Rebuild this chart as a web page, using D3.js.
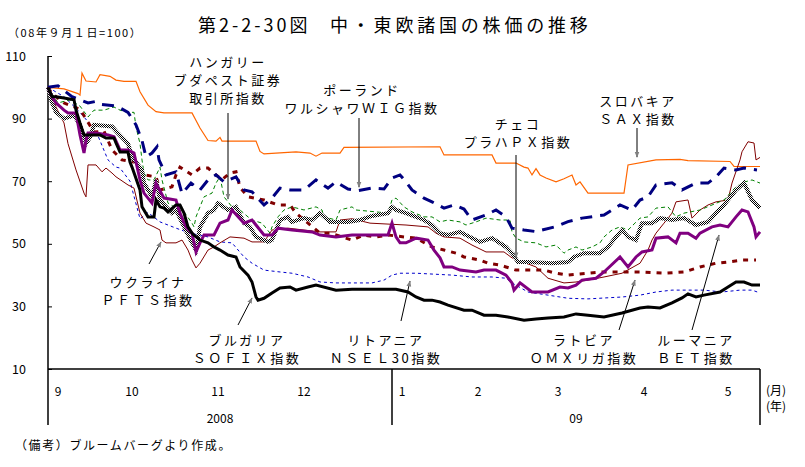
<!DOCTYPE html>
<html><head><meta charset="utf-8">
<script src="https://cdn.jsdelivr.net/npm/d3@7"></script>
<style>
body{margin:0;background:#fff;}
text{font-family:"Noto Sans CJK JP",sans-serif;fill:#000;}
</style></head>
<body><svg id="chart" width="805" height="467"></svg>
<script>
// 取引日インデックス (0 = 08年9月1日)
const monthDays = [0, 18.5, 40, 61.5, 86, 105, 125, 146.5, 167.5];
const monthLabels = ["9", "10", "11", "12", "1", "2", "3", "4", "5"];
const yearLabels = ["2008", "09"];
const yearBounds = [0, 86, 178];
const yTicks = [10, 30, 50, 70, 90, 110];

// --- 各国指数 [日, 値] ---
const slovakia = [[0,100],[4,99.5],[7.5,98],[8,97.5],[8.5,104.5],[9.5,102],[12,101.7],[13,104],[15.5,103.5],[17,102.3],[19,101.9],[22,101.9],[23,98.6],[25,94.3],[27,92.2],[29,91.8],[36,91.8],[38,87],[40,83],[42,82.8],[43,84],[43.5,82.8],[52,82.8],[53,79.5],[54,78.7],[62,79.4],[65.5,79],[67,78],[68.5,79],[73,79],[74,80.8],[98,81],[99,78.4],[111,78.4],[112,75.8],[117,75.8],[119,74.5],[120,74.2],[121,72],[122,74],[123,72],[124.5,71],[127,69.8],[129,70.8],[131,72],[132,68.8],[133,69.8],[135,66.2],[144,66.2],[145,75.2],[152,76.8],[158,77],[160,76.6],[170.5,76.3],[171.5,74.7],[178,74.7]];
const poland = [[0,100],[2.5,100.5],[4,99],[6,97],[10,95],[12,95.5],[13.5,94.5],[17,94],[18,93.4],[20,92],[22,88],[23.5,83],[24.5,77.7],[26,79],[27.25,81],[27.75,76.8],[29.5,72],[32,73],[33.5,66],[35.75,69.4],[38,67.2],[40,70.4],[42,72],[44,69.8],[47,71.4],[49,67.2],[51,66.6],[54,62.4],[56,64.6],[58,67.8],[60.5,67.2],[64,67.2],[67,70.4],[70,67.8],[72,69.8],[75,67.5],[77.5,67],[81,67.8],[84,67.5],[86,71],[88,72],[89.5,69.8],[91,67.2],[94,64.6],[96,63.4],[99,61.4],[101.5,62.4],[104,61.1],[106,57.6],[109.5,59.2],[112,60.8],[114.5,58.6],[116,55],[119,54.4],[122,53.9],[127,55.5],[130,57.1],[133.5,58.2],[139,59.2],[143,62.4],[146,60.8],[148,64],[150,65],[152,68.8],[156,69.5],[158.5,67.2],[162,69.4],[165,69.4],[167,71.4],[169,74.2],[172,73.6],[174,74.2],[177.25,73.6]];
const hungary = [[0,100],[1,98],[2.5,95],[5.5,96],[8,94],[10,90.5],[11.5,92.7],[14,92.7],[16.5,93.7],[18,92.7],[20,92],[21.5,92],[22,87.3],[23,82],[23.5,76.8],[24,72.6],[25,70.4],[26.5,70.4],[28,74.5],[28.5,70.4],[30,63],[32,61.4],[34,60.2],[36,56.6],[36.5,55.4],[37,58.6],[38,61.8],[39,65],[41,66.2],[42,69.4],[43,71.4],[44,65],[46,61.8],[48,60.8],[50,58.6],[51,57.6],[53.5,56.6],[55.5,53.4],[56,55.4],[57.5,58.6],[59,60.8],[61,61.8],[64,60.8],[67,61.8],[68.5,60.8],[69,58.6],[72,57.6],[73,60.8],[76,61.8],[77,60.8],[82,60.2],[85,59.8],[86,64],[87,64.6],[89,61.8],[91,60.2],[94,58.6],[96,58.6],[98,57],[100,57.6],[103,57],[104.5,56],[107,57],[109.5,58.2],[113,57.6],[115.5,57.6],[116,53.8],[117,51.8],[119,50.6],[122,50.3],[124.5,49],[127,49.6],[129,47],[130,48],[132,49],[133.5,48],[136,49],[138,50.3],[139,52.2],[141,54.4],[143,55.4],[145,54.4],[148,58.2],[150,58.6],[152,61.4],[155,61.8],[157,58.6],[159,59.8],[163,60.8],[166,62.4],[169,64],[172,68.2],[174,69.7],[176,70.4],[178,69.4]];
const czech = [[0,100],[1,95],[2,92],[4,90],[6.5,91],[8,88],[9.5,82],[10.5,84],[11.5,88],[16,87.5],[17,86],[18.5,84],[20,82],[21,77.7],[23.5,73.6],[24,69.4],[26,65],[27,70.4],[28,64],[31,59.8],[32,60.8],[34,55.4],[36,50.3],[37,48],[38,55.4],[40,59.8],[41.5,60.8],[42.5,63],[45,60.8],[47,61.8],[49,56.6],[50.5,55.4],[52,52.2],[55,50.6],[56,51.2],[58,57.6],[60,58.6],[61,57],[64,58.2],[66,57.6],[68,59.8],[70.5,57],[75,57],[78,57.6],[81,58.9],[85,59.8],[86,61.8],[87,60.8],[89.5,59.8],[92,58.6],[94,57.6],[96,56],[98,53.4],[100,52.8],[103,53.8],[104.5,52.8],[108,50.6],[111,51.8],[114.5,49],[116,47],[117.5,44.2],[120,44.2],[126,43.8],[130,44.2],[131.5,45.8],[134,47],[138,47],[140,49],[142,52.2],[143.5,54.4],[145,52.2],[147,51.2],[148.5,56.6],[151,56.6],[153,58.2],[156,57.6],[159,58.2],[162,56],[165,57],[167,59.8],[169,62.4],[172,67.2],[174,69.4],[176,64],[178,61.4]];
const romania = [[0,100],[1,97],[2,95],[4,92.7],[5,91.8],[7,91.8],[8,84.8],[9,79],[9.5,83],[10,85.4],[12,85.4],[15,84.8],[16.5,84.2],[18,80],[20,80],[21.5,79],[23,70.4],[24,66.2],[26,63],[27,69.4],[29,64.6],[32,64],[33,59.8],[34.5,55.4],[36,53.4],[37,47.4],[38,50.3],[39,52.8],[41.5,52.8],[43,56.6],[45,57.6],[46,60.8],[49,56.6],[51,57.6],[54,52.8],[56,52.8],[57.5,55],[61,54.4],[66,53.8],[68,52.8],[72,52.2],[76,52.8],[85,52.8],[86,56.6],[87,52.2],[88,50.3],[89.5,50.3],[92,51.8],[95,51.2],[96.5,48],[98,45.5],[99,42.6],[101,42.6],[103,41.6],[107,41],[109,41.6],[112,41.6],[114.5,40],[116,37.5],[116.5,35.2],[118,37.5],[121,34.6],[125,34.6],[128,36.2],[130,35.9],[132,36.8],[133.5,38.4],[137,39],[139,41],[143,45.8],[145,42.6],[147,45.8],[148.5,47.4],[151,48],[152,51.8],[155,52.2],[157,50.3],[158,53.4],[160,53.4],[162,51.8],[163,53.4],[166,55.4],[168,56],[170,55.4],[172,58.6],[173.5,60.8],[175,60.2],[176.5,55.4],[177,52.2],[178,53.8]];
const ukraine = [[0,100],[1,98],[2,93.7],[4,88.6],[5,82],[7,73.6],[9,66.2],[9.5,65],[10,75.2],[12,75.2],[13.5,73],[14.5,74.2],[16,72.6],[17,71.4],[20,68.8],[21.5,67.8],[23,59.8],[24.5,56.6],[26.5,55.4],[28,54.4],[28.5,51.2],[29.5,50.3],[32,50.3],[33.5,51.2],[35,48],[36,44.8],[37,42.3],[38,43.8],[40,48],[41.5,49],[43,50.3],[45.5,52.2],[49,51.8],[51,50.6],[54,50.6],[56,54.4],[60,55],[64,54.4],[68,53.8],[72,53.8],[73,57.6],[76,58],[80.5,56.6],[89.5,56],[95,55.4],[97,53.4],[99,52.2],[103,51.8],[106,49.6],[109.5,47.4],[114,47.4],[116,45.5],[119.5,43.8],[122,42.6],[125,39],[129,37.5],[132,37.8],[135,38.4],[139,39.4],[143.5,40.6],[148,43.8],[150,48],[151,51.2],[152,53.4],[153,55],[154,56.6],[156,59.8],[157,63.4],[160,64],[161,58.2],[163,60.8],[165,62.4],[167,63.4],[170,64],[171,69.4],[173,76.8],[173.5,79.4],[175,82.6],[176.5,82.2],[177,76.8],[178,77.6]];
const latvia = [[0,100],[1,98],[4,95],[8,93],[11.5,85.7],[14,86],[16,80],[18,77.4],[18.5,76.8],[22,76],[24,72],[27,71.4],[28,67.2],[31,68.2],[32,72],[33,74.5],[36,72],[38,74.2],[40,74.2],[42,72],[43.5,70.5],[45.5,72.6],[47,73],[48,68],[50,65],[54,64],[57.5,62.4],[60.5,62.4],[62,59.8],[65,56.6],[68,53.4],[70.5,53.4],[76,51.2],[79,52.8],[82,52.2],[85,52.8],[89,52.2],[92,51.8],[96,49],[99,48],[102,47],[104,45.8],[108,44.8],[110,43.8],[113,43.2],[114.5,42.6],[117,41.6],[124,41.6],[127,40.6],[130,40],[135,40.6],[138.5,41],[148,41],[154,40.6],[159,41],[163,42.6],[167,43.8],[170,44.2],[173.5,44.8],[177,44.8]];
const lithuania = [[0,100],[4,97],[8,92],[12,86],[15,76.8],[17,74.5],[18,74.2],[20.5,70],[23,58],[25,60],[28,57],[32,55],[35.5,53.4],[40,52.2],[43,50.6],[46,50.3],[49,45.8],[51,43.8],[54,41.6],[58,41],[61,40.6],[65,39.4],[68,37.8],[72,37.5],[81,37.5],[84,38.4],[86,40],[88,40.6],[92,40.6],[101,40],[106,39.4],[111,39.4],[114.5,39],[116,37.5],[120,34.6],[125,33.6],[130,32.6],[135,32.4],[143.5,33],[148,33.6],[152,34.6],[156,35.2],[164,35.2],[168.5,34.6],[173,35.2],[176,35.2],[178,34.3]];
const bulgaria = [[0,100],[1,97],[2,97],[4,96.6],[6.5,96],[7,92.7],[8,88.6],[9,84.8],[13,84.8],[14.5,83.8],[16.5,83.8],[17,82.2],[18,79.3],[20,79.3],[20.5,76.1],[21,74.5],[23,67.2],[23.5,61.8],[25,58.6],[26.5,58.6],[27,64],[28,61.8],[29,61.4],[30,60.2],[32,62.4],[33,62.4],[34,59.8],[35,55.4],[36,53.4],[36.5,52.8],[38,51.2],[40,50.3],[41.5,49],[43,48],[45,46.4],[47,45.8],[48,42.6],[50,40],[51,37.8],[52,33],[52.5,32],[54,32.6],[56,34.3],[58,35.9],[60.5,36.2],[62,35.2],[65,36.2],[67,36.8],[72,35.2],[76,35.5],[87,35.5],[90,34.6],[92,33],[94,32],[96,32],[98,31.4],[100,30.4],[104,28.8],[106,28.8],[109,27.2],[112,27.2],[115,26.6],[119,25.6],[122,26],[125,26.3],[129,26.6],[132,27.6],[135,27.2],[139,26.6],[143.5,27.9],[148,29.5],[150,29.8],[153,29.5],[156,31.1],[158.5,32.7],[160,34],[162,33],[164,33.6],[168,34.6],[170,36.2],[172,37.8],[174,37.8],[176,36.8],[178,36.8]];

// 描画順と線のスタイル
const series = [
    {data: slovakia, stroke: "#ff6600", width: 1.2, dash: null},
    {data: lithuania, stroke: "#0000cc", width: 1, dash: "3,3"},
    {data: ukraine, stroke: "#800000", width: 1, dash: null},
    {data: latvia, stroke: "#800000", width: 3, dash: "5,6"},
    {data: hungary, stroke: "#008000", width: 1, dash: "4,3"},
    {data: czech, stroke: "url(#checker)", width: 4, dash: null},
    {data: poland, stroke: "#000080", width: 3, dash: "12,8"},
    {data: romania, stroke: "#800080", width: 3, dash: null},
    {data: bulgaria, stroke: "#000000", width: 3, dash: null}
];

// 注記: 矢印の先端は [日, 値]
const notes = [
    {lines: ["ハンガリー", "ブダペスト証券", "取引所指数"], lx: 228, ly: 67, from: [228, 113], tip: [45, 64.3]},
    {lines: ["ポーランド", "ワルシャワＷＩＧ指数"], lx: 362, ly: 95, from: [359, 118], tip: [77.75, 68.1]},
    {lines: ["チェコ", "プラハＰＸ指数"], lx: 518, ly: 129, from: [516, 155], tip: [117, 45.5]},
    {lines: ["スロバキア", "ＳＡＸ指数"], lx: 638, ly: 106, from: [637, 128], tip: [147.25, 77.7]},
    {lines: ["ウクライナ", "ＰＦＴＳ指数"], lx: 148, ly: 287, from: [149, 264], tip: [28.25, 50.6]},
    {lines: ["ブルガリア", "ＳＯＦＩＸ指数"], lx: 247, ly: 345, from: [238, 325], tip: [51, 32.7]},
    {lines: ["リトアニア", "ＮＳＥＬ30指数"], lx: 386, ly: 345, from: [401, 321], tip: [90.5, 38.1]},
    {lines: ["ラトビア", "ＯＭＸリガ指数"], lx: 584, ly: 345, from: [619, 330], tip: [146.75, 38.4]},
    {lines: ["ルーマニア", "ＢＥＴ指数"], lx: 696, ly: 345, from: [692, 330], tip: [167.75, 52.8]}
];

const svg = d3.select("#chart");
const x = d3.scaleLinear().domain([0, 178]).range([48, 760]);
const y = d3.scaleLinear().domain([10, 110]).range([369, 56]);
const bottom = 425;

// 市松模様 (チェコ)
const defs = svg.append("defs");
const pat = defs.append("pattern").attr("id", "checker").attr("patternUnits", "userSpaceOnUse")
    .attr("width", 2).attr("height", 2);
pat.append("rect").attr("width", 2).attr("height", 2).attr("fill", "#fff");
pat.append("rect").attr("width", 1).attr("height", 1).attr("fill", "#000");
pat.append("rect").attr("x", 1).attr("y", 1).attr("width", 1).attr("height", 1).attr("fill", "#000");

defs.append("marker").attr("id", "arrow").attr("viewBox", "0 0 10 10")
    .attr("refX", 9).attr("refY", 5).attr("markerWidth", 6).attr("markerHeight", 6)
    .attr("markerUnits", "userSpaceOnUse").attr("orient", "auto")
    .append("path").attr("d", "M0,1L10,5L0,9Z").attr("fill", "#808080");

// タイトル
svg.append("text").attr("x", 198).attr("y", 32).attr("font-size", 18).attr("letter-spacing", 3)
    .text("第2-2-30図");
svg.append("text").attr("x", 330).attr("y", 32).attr("font-size", 18).attr("letter-spacing", 3.8)
    .text("中・東欧諸国の株価の推移");
svg.append("text").attr("x", 8).attr("y", 37).attr("font-size", 11).attr("letter-spacing", 1.6)
    .text("（08年９月１日=100）");

// Y軸
svg.append("g").attr("transform", `translate(${x(0)},0)`)
    .call(d3.axisLeft(y).tickValues(yTicks).tickSize(-4).tickSizeOuter(0).tickPadding(22))
    .call(g => g.select(".domain").remove())
    .call(g => g.selectAll("line").attr("stroke", "#000"))
    .call(g => g.selectAll("text").attr("font-size", 12.5).attr("font-family", null));
svg.append("line").attr("x1", x(0)).attr("x2", x(0)).attr("y1", y(110)).attr("y2", bottom)
    .attr("stroke", "#000").attr("stroke-width", 1.5);

// X軸と年の区切り
svg.append("line").attr("x1", x(0)).attr("x2", x(178)).attr("y1", y(10)).attr("y2", y(10))
    .attr("stroke", "#000").attr("stroke-width", 1.5);
svg.selectAll(".ybound").data(yearBounds.slice(1)).enter().append("line")
    .attr("x1", d => x(d)).attr("x2", d => x(d)).attr("y1", y(10)).attr("y2", bottom)
    .attr("stroke", "#000").attr("stroke-width", 1.5);

svg.selectAll(".mlab").data(monthDays).enter().append("text")
    .attr("x", d => x(d) + 10).attr("y", 396).attr("text-anchor", "middle").attr("font-size", 12)
    .text((d, i) => monthLabels[i]);
svg.selectAll(".ylab").data(yearLabels).enter().append("text")
    .attr("x", (d, i) => (x(yearBounds[i]) + x(yearBounds[i + 1])) / 2).attr("y", 423)
    .attr("text-anchor", "middle").attr("font-size", 12).text(d => d);
svg.append("text").attr("x", 766).attr("y", 395).attr("font-size", 12).text("(月)");
svg.append("text").attr("x", 766).attr("y", 411).attr("font-size", 12).text("(年)");

// 系列
const line = d3.line().x(d => x(d[0])).y(d => y(d[1]));
series.forEach(s => {
    svg.append("path").datum(s.data)
        .attr("d", line).attr("fill", "none")
        .attr("stroke", s.stroke).attr("stroke-width", s.width)
        .attr("stroke-dasharray", s.dash);
});

// 注記
notes.forEach(n => {
    const t = svg.append("text").attr("font-size", 13).attr("letter-spacing", 2.5).attr("text-anchor", "middle");
    n.lines.forEach((l, i) => t.append("tspan").attr("x", n.lx).attr("y", n.ly + i * 18).text(l));
    svg.append("line").attr("x1", n.from[0]).attr("y1", n.from[1])
        .attr("x2", x(n.tip[0])).attr("y2", y(n.tip[1]))
        .attr("stroke", "#000").attr("stroke-width", 1).attr("marker-end", "url(#arrow)");
});

svg.append("text").attr("x", 15).attr("y", 450).attr("font-size", 12).attr("letter-spacing", 1.6)
    .text("（備考）ブルームバーグより作成。");
</script>
</body></html>
